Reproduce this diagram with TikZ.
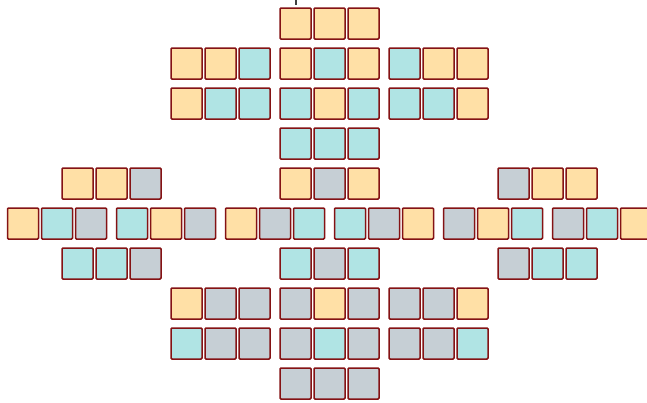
\documentclass[tikz,border=0pt]{standalone}
\usepackage{tikz}
\definecolor{cellred}{RGB}{132,18,20}
\definecolor{cellamber}{RGB}{255,224,166}
\definecolor{cellcyan}{RGB}{176,228,228}
\definecolor{cellslate}{RGB}{198,207,213}
\tikzset{
  cell/.style={draw=cellred,line width=1.5pt,rounded corners=1pt,
               minimum size=31pt,inner sep=0pt,outer sep=0pt},
  sqO/.style={cell,fill=cellamber},
  sqC/.style={cell,fill=cellcyan},
  sqG/.style={cell,fill=cellslate},
}
\begin{document}
\begin{tikzpicture}[x=1pt,y=-1pt]
  \path[use as bounding box] (0,0) rectangle (647,402);
  \draw[black!75,line width=1.5pt] (296,0) -- (296,4.5);

  % row / group offset / three cell colours
  \foreach \r/\g/\a/\b/\c [count=\n] in {
      0/0/O/O/O,
      1/-1/O/O/C, 1/0/O/C/O, 1/1/C/O/O,
      2/-1/O/C/C, 2/0/C/O/C, 2/1/C/C/O,
      3/0/C/C/C,
      4/-2/O/O/G, 4/0/O/G/O, 4/2/G/O/O,
      5/-2.5/O/C/G, 5/-1.5/C/O/G, 5/-0.5/O/G/C,
      5/0.5/C/G/O, 5/1.5/G/O/C, 5/2.5/G/C/O,
      6/-2/C/C/G, 6/0/C/G/C, 6/2/G/C/C,
      7/-1/O/G/G, 7/0/G/O/G, 7/1/G/G/O,
      8/-1/C/G/G, 8/0/G/C/G, 8/1/G/G/C,
      9/0/G/G/G}
  {
    \node[sq\a] (cell\n-1) at ({295.5+109*\g},{23.5+40*\r}) {};
    \node[sq\b] (cell\n-2) at ({329.5+109*\g},{23.5+40*\r}) {};
    \node[sq\c] (cell\n-3) at ({363.5+109*\g},{23.5+40*\r}) {};
  }
\end{tikzpicture}
\end{document}
